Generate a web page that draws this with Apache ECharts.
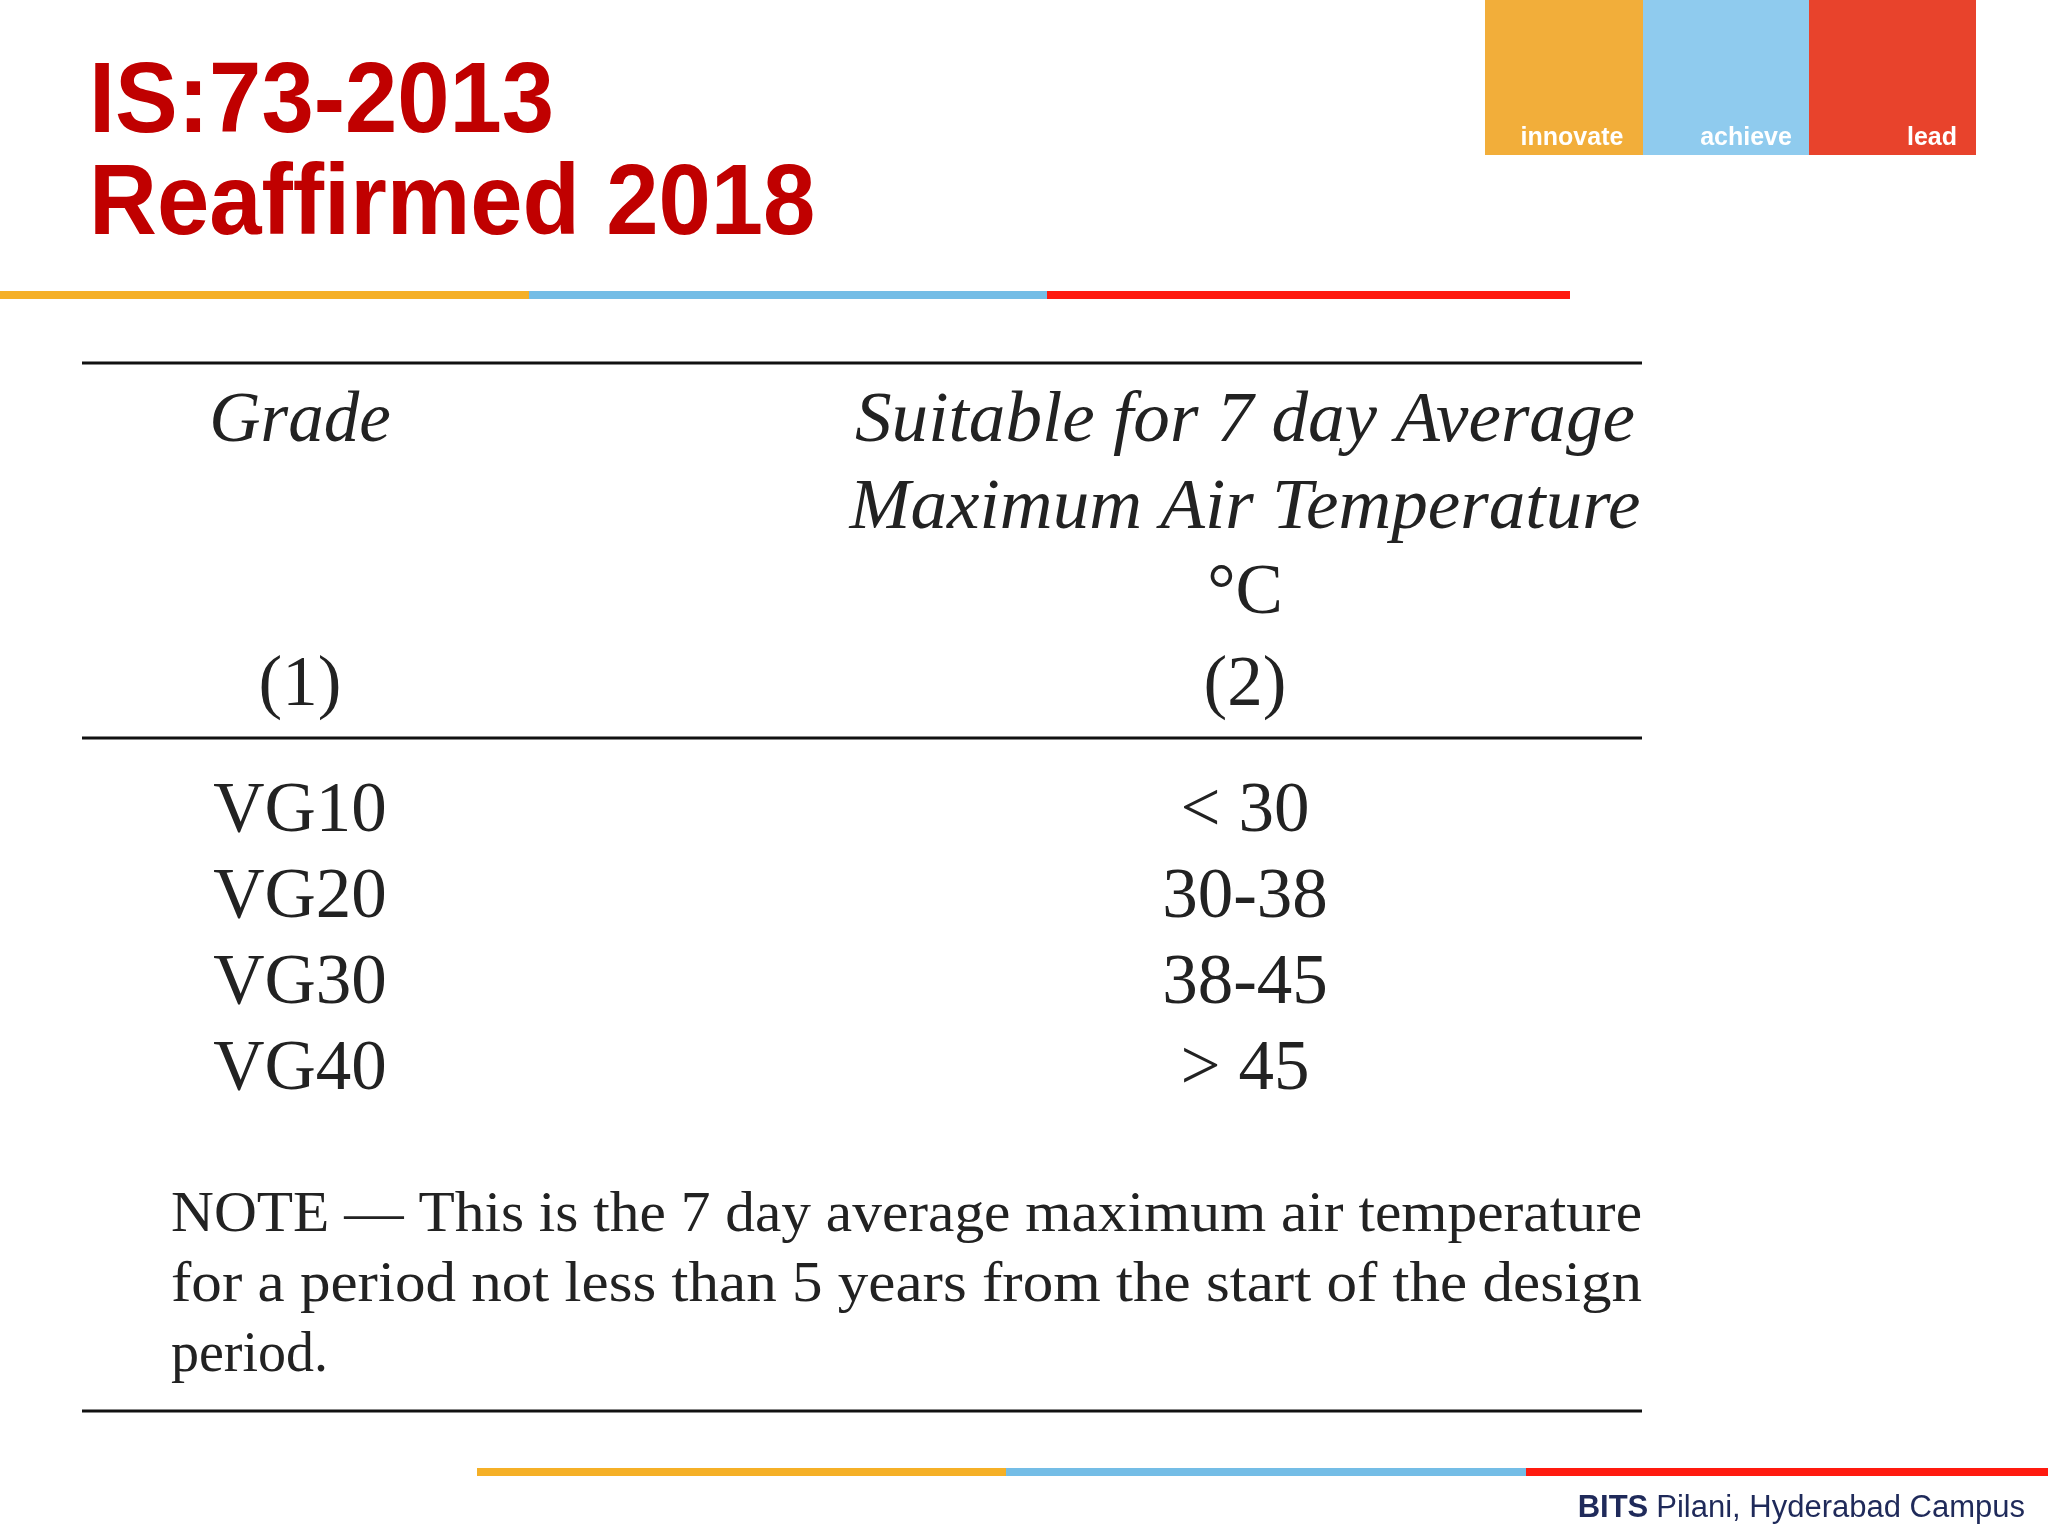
<!DOCTYPE html>
<html>
<head>
<meta charset="utf-8">
<script src="https://cdn.jsdelivr.net/npm/echarts@6/dist/echarts.min.js"></script>
<style>html,body{margin:0;padding:0;background:#fff}#main{width:2048px;height:1536px}</style>
</head>
<body>
<div id="main"></div>
<script>
var titleLines = ['IS:73-2013', 'Reaffirmed 2018'];
var headerCol1 = ['Grade', '(1)'];
var headerCol2 = ['Suitable for 7 day Average', 'Maximum Air Temperature', '°C', '(2)'];
var grades = ['VG10', 'VG20', 'VG30', 'VG40'];
var temps = ['< 30', '30-38', '38-45', '> 45'];
var noteLines = [
    'NOTE — This is the 7 day average maximum air temperature',
    'for a period not less than 5 years from the start of the design',
    'period.'
];
var logoWords = ['innovate', 'achieve', 'lead'];
var footer = 'Pilani, Hyderabad Campus';

var serif = '"Liberation Serif", "DejaVu Serif", serif';
var sans = 'Arial, "Liberation Sans", sans-serif';
var bandColors = ['#f5b027', '#74bde6', '#ff1a0f'];

var ctx = document.createElement('canvas').getContext('2d');
function measure(s, font) { ctx.font = font; return ctx.measureText(s).width; }

var g = [];
function txt(x, y, s, font, opt) {
    opt = opt || {};
    g.push({type: 'text', x: x, y: y, scaleX: opt.scaleX || 1, style: {
        text: s, font: font, fill: opt.fill || '#222',
        textAlign: opt.align || 'center', textVerticalAlign: 'middle'
    }});
}
function rect(x, y, w, h, c) {
    g.push({type: 'rect', shape: {x: x, y: y, width: w, height: h}, style: {fill: c}});
}

// title
titleLines.forEach(function (s, i) {
    txt(89, 104 + i * 102, s, 'bold 100px ' + sans, {fill: '#c00000', align: 'left', scaleX: 0.94});
});
// top band
[[0, 529], [529, 1047], [1047, 1570]].forEach(function (b, i) { rect(b[0], 291, b[1] - b[0], 8, bandColors[i]); });
// logo
[[1485, 1643], [1643, 1809], [1809, 1976]].forEach(function (b, i) { rect(b[0], 0, b[1] - b[0], 155, ['#f2ae3a', '#8fcbee', '#e8432c'][i]); });
[1572, 1746, 1932].forEach(function (x, i) { txt(x, 138, logoWords[i], 'bold 25px ' + sans, {fill: '#fff'}); });

// table rules
[363, 738, 1411].forEach(function (y) { rect(82, y - 1.5, 1560, 3, '#111'); });

var tf = '71px ' + serif;
txt(300, 422, headerCol1[0], 'italic ' + tf);
txt(300, 686, headerCol1[1], tf);
[422, 509, 594, 686].forEach(function (y, i) {
    txt(1245, y, headerCol2[i], (i < 2 ? 'italic ' : '') + tf, {scaleX: i < 2 ? 1.03 : 1});
});
grades.forEach(function (s, i) {
    var y = 812 + i * 86;
    txt(300, y, s, tf);
    txt(1245, y, temps[i], tf);
});
var nf = '56px ' + serif;
noteLines.forEach(function (s, i) {
    var sx = i < noteLines.length - 1 ? (1642 - 171) / measure(s, nf) : 1;
    txt(171, 1216 + i * 70, s, nf, {align: 'left', scaleX: sx});
});

// bottom band
[[477, 1006], [1006, 1526], [1526, 2048]].forEach(function (b, i) { rect(b[0], 1468, b[1] - b[0], 8, bandColors[i]); });
g.push({type: 'text', x: 2025, y: 1508, style: {
    rich: {b: {font: 'bold 31px ' + sans, fill: '#1f2a5a', padding: [0, 8, 0, 0]}, n: {font: '31px ' + sans, fill: '#1f2a5a'}},
    text: '{b|BITS}{n|' + footer + '}', textAlign: 'right', textVerticalAlign: 'middle'
}});

var chart = echarts.init(document.getElementById('main'));
chart.setOption({animation: false, graphic: g});
</script>
</body>
</html>
